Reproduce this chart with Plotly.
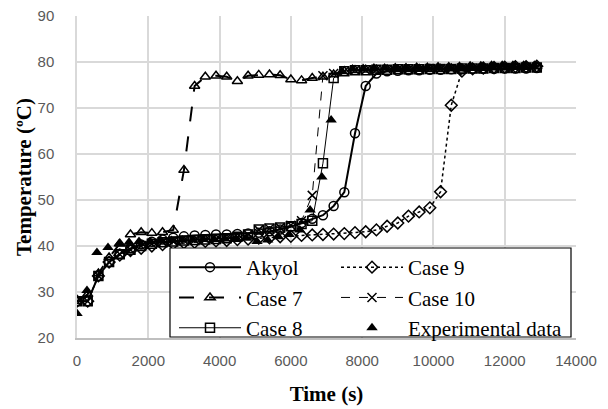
import plotly.graph_objects as go

# ---- data ----
time_s = [0, 300, 600, 900, 1200, 1500, 1800, 2100, 2400, 2700, 3000, 3300, 3600, 3900,
          4200, 4500, 4800, 5100, 5400, 5700, 6000, 6300, 6600, 6900, 7200, 7500, 7800,
          8100, 8400, 8700, 9000, 9300, 9600, 9900, 10200, 10500, 10800, 11100, 11400,
          11700, 12000, 12300, 12600, 12900]

akyol = [28, 28, 33.5, 36.5, 38.3, 39.5, 40.3, 40.9, 41.4, 41.8, 42.1, 42.3, 42.4, 42.5,
         42.5, 42.6, 42.7, 42.9, 43.2, 43.6, 44.2, 45.0, 45.9, 46.7, 48.7, 51.7, 64.5,
         74.8, 77.5, 78.0, 78.1, 78.2, 78.2, 78.3, 78.3, 78.4, 78.4, 78.5, 78.5,
         78.5, 78.6, 78.6, 78.6, 78.7]

case7 = [28, 29.5, 34, 37.5, 40.5, 42.5, 43.0, 42.8, 43.0, 43.5, 56.5, 74.8, 76.8, 77.0,
         76.8, 75.8, 77.0, 77.2, 77.3, 77.1, 76.2, 76.0, 76.5, 76.8, 77.3, 78.0, 78.2,
         78.3, 78.3, 78.4, 78.4, 78.4, 78.5, 78.5, 78.5, 78.6, 78.6, 78.7, 78.7,
         78.8, 78.8, 78.9, 78.9, 79.0]

case8 = [28, 28, 33.5, 36.5, 38.2, 39.2, 40.0, 40.5, 40.8, 41.0, 41.2, 41.3, 41.4, 41.5,
         41.7, 42.0, 42.5, 43.6, 43.8, 44.0, 44.3, 44.8, 45.5, 58.0, 76.5, 78.0, 78.2,
         78.2, 78.3, 78.3, 78.4, 78.4, 78.4, 78.5, 78.5, 78.5, 78.6, 78.6, 78.6,
         78.7, 78.7, 78.7, 78.8, 78.8]

case9 = [28, 28, 33.5, 36.5, 38.0, 39.0, 39.5, 40.0, 40.3, 40.5, 40.7, 40.8, 41.0, 41.1,
         41.2, 41.4, 41.5, 41.7, 41.8, 42.0, 42.1, 42.3, 42.4, 42.5, 42.6, 42.7, 42.9,
         43.1, 43.5, 44.3, 45.0, 46.5, 47.4, 48.3, 51.8, 70.6, 78.0, 78.5, 78.7,
         78.8, 78.9, 79.0, 79.0, 79.1]

case10 = [28, 28, 33.5, 36.5, 38.2, 39.2, 40.0, 40.5, 40.8, 41.0, 41.2, 41.3, 41.4, 41.5,
          41.7, 42.0, 42.5, 43.5, 43.8, 44.0, 44.5, 45.5, 51.0, 77.0, 77.5, 78.0, 78.2,
          78.2, 78.3, 78.3, 78.4, 78.4, 78.4, 78.5, 78.5, 78.5, 78.6, 78.6, 78.6,
          78.7, 78.7, 78.7, 78.8, 78.8]

exp_time = [0, 280, 560, 870, 1180, 1460, 1740, 2050, 2350, 2650, 2950, 3250, 3550, 3850,
            4150, 4450, 4750, 5050, 5350, 5650, 5950, 6250, 6540, 6870, 7130, 7430, 7730,
            8030, 8330, 8630, 8930, 9230, 9530, 9830, 10130, 10430, 10730, 11030, 11330,
            11630, 11930, 12230, 12530, 12830]
exp_temp = [25.3, 30.3, 38.6, 39.7, 40.5, 40.8, 41.0, 41.0, 41.2, 41.2, 41.3, 41.3, 41.4, 41.4,
            41.5, 41.5, 41.7, 41.0, 41.3, 42.0, 42.5, 43.5, 47.8, 55.0, 67.4, 78.0, 78.5,
            78.6, 78.7, 78.7, 78.8, 78.8, 78.9, 78.9, 79.0, 79.0, 79.1, 79.2, 79.2,
            79.3, 79.3, 79.3, 79.3, 79.3]

x_ticks = [0, 2000, 4000, 6000, 8000, 10000, 12000, 14000]
y_ticks = [20, 30, 40, 50, 60, 70, 80, 90]

# ---- figure ----
fig = go.Figure()

def sim(name, y, dash, width, symbol, legend_id):
    fig.add_trace(go.Scatter(
        x=time_s, y=y, name=name, mode="lines+markers",
        line=dict(color="black", width=width, dash=dash),
        marker=dict(symbol=symbol, size=9, color="black", line=dict(width=1.5, color="black")),
        legend=legend_id,
    ))

sim("Akyol", akyol, "solid", 2, "circle-open", "legend")
sim("Case 7", case7, "longdash", 2, "triangle-up-open", "legend")
sim("Case 8", case8, "solid", 1, "square-open", "legend")
sim("Case 9", case9, "dot", 1.5, "diamond-open", "legend2")
sim("Case 10", case10, "dash", 1, "x-thin-open", "legend2")

fig.add_trace(go.Scatter(
    x=exp_time, y=exp_temp, name="Experimental data", mode="markers",
    marker=dict(symbol="triangle-up", size=10, color="black"),
    legend="legend2",
))

# plot area in pixels: x 77..576, y 16..338
L, R, T, B = 77, 32, 16, 71
PW, PH = 608 - L - R, 409 - T - B

def px_x(p):
    return (p - L) / PW

def px_y(p):
    return (409 - B - p) / PH

legend_font = dict(family="Liberation Serif", size=21, color="black")
leg_common = dict(orientation="v", bgcolor="rgba(0,0,0,0)", borderwidth=0,
                  font=legend_font, itemwidth=62, tracegroupgap=0,
                  yanchor="top", y=px_y(247), xanchor="left")

fig.update_layout(
    width=608, height=409,
    margin=dict(l=L, r=R, t=T, b=B),
    paper_bgcolor="white", plot_bgcolor="white",
    showlegend=True,
    legend=dict(x=px_x(174), **leg_common),
    legend2=dict(x=px_x(336), **leg_common),
    shapes=[dict(type="rect", xref="paper", yref="paper",
                 x0=px_x(170), x1=px_x(571), y0=px_y(337), y1=px_y(248),
                 fillcolor="white", line=dict(color="black", width=1.2), layer="above")],
    xaxis=dict(
        range=[0, 14000], tickvals=x_ticks, ticktext=[str(v) for v in x_ticks],
        showgrid=True, gridcolor="#d9d9d9", gridwidth=1.5,
        showline=True, linecolor="#bfbfbf", linewidth=1.5,
        zeroline=False, ticks="", ticklabelstandoff=8, automargin=False,
        tickfont=dict(family="Liberation Sans", size=15, color="#595959"),
        title=dict(text="<b>Time (s)</b>", standoff=19,
                   font=dict(family="Liberation Serif", size=21, color="black")),
    ),
    yaxis=dict(
        range=[20, 90], tickvals=y_ticks, ticktext=[str(v) for v in y_ticks],
        showgrid=True, gridcolor="#d9d9d9", gridwidth=1.5,
        showline=True, linecolor="#d9d9d9", linewidth=1.5,
        zeroline=False, ticks="", ticklabelstandoff=18, automargin=False,
        tickfont=dict(family="Liberation Sans", size=15, color="#595959"),
        title=dict(text="<b>Temperature (ºC)</b>", standoff=0,
                   font=dict(family="Liberation Serif", size=21, color="black")),
    ),
)

fig.write_html("out.html", config={"displayModeBar": False},
               post_script="document.body.style.margin='0px';")
